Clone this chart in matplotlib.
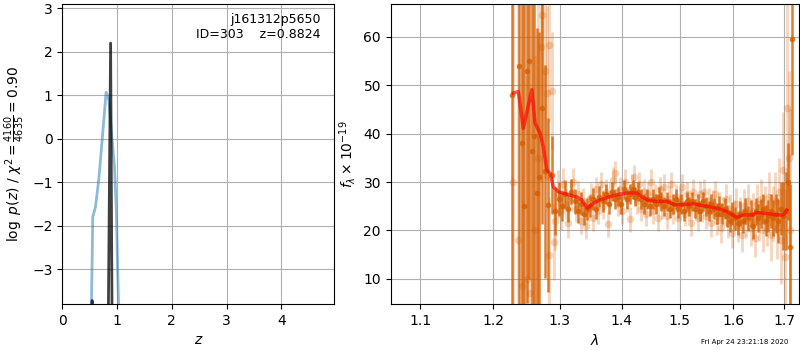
import time
import numpy as np
import matplotlib
matplotlib.use('Agg')
import matplotlib.pyplot as plt
from matplotlib.ticker import ScalarFormatter, NullLocator, NullFormatter

# redshift panel
z_chi2 = [0.530, 0.545, 0.556, 0.605, 0.665, 0.728, 0.758, 0.800, 0.850, 0.910, 0.953, 0.985, 1.010, 1.030]
logp_chi2 = [-3.9, -2.8, -1.80, -1.57, -0.95, -0.03, 0.43, 1.07, 0.90, -0.03, -0.65, -1.57, -2.95, -3.9]
z_pz = [0.540, 0.545, 0.550, 0.838, 0.8824, 0.910]
logp_pz = [-4.5, -3.72, -4.5, -4.5, 2.2, -4.5]

obj_name = 'j161312p5650'
obj_id = 303
z_best = 0.8824
chi2 = 4160
dof = 4635

# spectrum panel, dark points (combined)
wave_dark = [1.2271, 1.2384, 1.2420, 1.2454, 1.2494, 1.2533, 1.2568, 1.2608, 1.2644, 1.2684,
             1.2725, 1.2774, 1.2821, 1.288, 1.293, 1.298, 1.303, 1.308, 1.313, 1.318,
             1.323, 1.328, 1.333, 1.338, 1.343, 1.348, 1.353, 1.358, 1.363, 1.368,
             1.373, 1.378, 1.383, 1.388, 1.393, 1.398, 1.403, 1.408, 1.413, 1.418,
             1.423, 1.428, 1.433, 1.438, 1.443, 1.448, 1.453, 1.458, 1.463, 1.468,
             1.473, 1.478, 1.483, 1.488, 1.493, 1.498, 1.503, 1.508, 1.513, 1.518,
             1.523, 1.528, 1.533, 1.538, 1.543, 1.548, 1.553, 1.558, 1.563, 1.568,
             1.573, 1.578, 1.583, 1.588, 1.593, 1.598, 1.603, 1.608, 1.613, 1.618,
             1.623, 1.628, 1.633, 1.638, 1.643, 1.648, 1.653, 1.658, 1.663, 1.668,
             1.673, 1.678, 1.683, 1.688, 1.693, 1.698, 1.7035, 1.7075, 1.712, 1.7157]
flux_dark = [48.0, 54.0, 38.0, 25.0, 53.0, 55.0, 36.4, 39.5, 27.8, 31.1,
             45.3, 32.2, 25.3, 31.5, 24.0, 26.5, 25.0, 27.5, 24.5, 28.0,
             26.0, 24.0, 25.5, 23.5, 24.5, 25.0, 26.5, 24.5, 27.0, 26.0,
             27.5, 25.5, 28.0, 26.5, 27.0, 25.5, 28.5, 26.5, 27.5, 28.5,
             27.0, 28.0, 26.5, 25.5, 26.5, 25.0, 26.5, 25.5, 27.0, 26.0,
             25.0, 26.0, 24.5, 25.5, 26.5, 24.5, 25.5, 24.0, 26.0, 25.0,
             26.0, 24.5, 25.5, 24.0, 26.0, 25.0, 24.0, 25.5, 24.5, 23.5,
             25.0, 23.5, 24.5, 23.0, 22.0, 23.5, 22.5, 21.5, 23.5, 22.0,
             24.0, 22.5, 23.5, 21.0, 24.0, 22.5, 23.5, 24.5, 22.0, 23.0,
             24.0, 22.5, 23.5, 22.0, 24.5, 23.0, 24.0, 30.1, 16.5, 59.6]
err_dark = [70, 60, 55, 50, 48, 45, 42, 38, 34, 30,
            24, 22, 18, 8, 5, 3.5, 3.0, 3.0, 2.8, 2.6,
            2.5, 2.5, 2.4, 2.4, 2.3, 2.3, 2.2, 2.2, 2.2, 2.1,
            2.1, 2.1, 2.0, 2.0, 2.0, 2.0, 2.0, 2.0, 2.0, 2.0,
            2.0, 2.0, 2.0, 2.0, 2.0, 2.0, 2.0, 2.0, 2.0, 2.0,
            2.0, 2.0, 2.0, 2.0, 2.0, 2.0, 2.0, 2.0, 2.0, 2.0,
            2.0, 2.0, 2.0, 2.0, 2.0, 2.0, 2.1, 2.1, 2.1, 2.1,
            2.2, 2.2, 2.2, 2.3, 2.3, 2.3, 2.4, 2.4, 2.5, 2.5,
            2.6, 2.6, 2.7, 2.8, 2.8, 2.9, 3.0, 3.1, 3.2, 3.3,
            3.5, 3.7, 4.0, 4.5, 5.5, 7.0, 8.0, 8.0, 13, 24]

# spectrum panel, light points (individual beams)
wave_light = [1.229, 1.236, 1.243, 1.250, 1.255, 1.2615, 1.266, 1.2705, 1.2725, 1.2765,
              1.2800, 1.2826, 1.2836, 1.2870, 1.2909,
              1.293, 1.297, 1.301, 1.305, 1.309, 1.313, 1.317, 1.321, 1.325, 1.329,
              1.333, 1.337, 1.341, 1.345, 1.349, 1.353, 1.357, 1.361, 1.365, 1.369,
              1.373, 1.377, 1.381, 1.385, 1.389, 1.393, 1.397, 1.401, 1.405, 1.409,
              1.413, 1.417, 1.421, 1.425, 1.429, 1.433, 1.437, 1.441, 1.445, 1.449,
              1.453, 1.457, 1.461, 1.465, 1.469, 1.473, 1.477, 1.481, 1.485, 1.489,
              1.493, 1.497, 1.501, 1.505, 1.509, 1.513, 1.517, 1.521, 1.525, 1.529,
              1.533, 1.537, 1.541, 1.545, 1.549, 1.553, 1.557, 1.561, 1.565, 1.569,
              1.573, 1.577, 1.581, 1.585, 1.589, 1.593, 1.597, 1.601, 1.605, 1.609,
              1.613, 1.617, 1.621, 1.625, 1.629, 1.633, 1.637, 1.641, 1.645, 1.649,
              1.653, 1.657, 1.661, 1.665, 1.669, 1.673, 1.677, 1.681, 1.685, 1.689,
              1.693, 1.697, 1.701, 1.705, 1.709, 1.713]
flux_light = [30.0, 18.0, 8.5, 10.0, 7.0, 20.0, 35.0, 58.0, 64.6, 52.9,
              48.4, 14.9, 58.4, 48.9, 17.7,
              22.0, 27.5, 24.0, 29.5, 25.5, 21.5, 27.0, 30.0, 24.5, 27.5,
              22.0, 26.0, 21.0, 24.5, 27.0, 22.5, 28.5, 24.0, 29.5, 25.0,
              28.0, 21.3, 27.5, 30.5, 31.8, 25.5, 28.5, 24.0, 30.0, 26.5,
              22.3, 29.0, 31.0, 26.0, 29.5, 24.5, 28.0, 23.5, 27.5, 30.0,
              24.0, 27.0, 22.5, 28.5, 25.0, 29.0, 23.0, 26.5, 29.5, 24.0,
              27.0, 22.5, 26.0, 29.0, 23.5, 27.5, 24.5, 21.5, 28.0, 25.0,
              22.5, 27.5, 24.5, 28.0, 23.0, 26.0, 21.5, 25.5, 27.5, 22.0,
              25.0, 20.5, 24.0, 26.5, 21.5, 24.5, 19.5, 23.0, 25.5, 21.0,
              23.5, 19.0, 25.0, 22.0, 26.0, 20.5, 24.0, 18.5, 25.5, 22.0,
              26.5, 20.0, 24.5, 21.5, 27.0, 19.0, 23.5, 26.0, 20.5, 28.0,
              18.0, 32.5, 14.6, 45.3, 34.9, 20.0]
err_light = [60, 55, 45, 42, 40, 36, 32, 28, 25, 22,
             18, 12, 16, 12, 8,
             6.0, 5.0, 4.0, 3.5, 3.2, 3.0, 3.0, 3.0, 2.8, 2.8,
             2.8, 2.8, 2.7, 2.7, 2.7, 2.7, 2.6, 2.6, 2.6, 2.6,
             2.6, 2.6, 2.6, 2.6, 2.6, 2.6, 2.6, 2.6, 2.6, 2.6,
             2.6, 2.6, 2.6, 2.6, 2.6, 2.6, 2.6, 2.6, 2.6, 2.6,
             2.6, 2.6, 2.6, 2.6, 2.6, 2.6, 2.6, 2.6, 2.6, 2.6,
             2.6, 2.6, 2.6, 2.6, 2.6, 2.6, 2.6, 2.6, 2.6, 2.6,
             2.7, 2.7, 2.7, 2.7, 2.7, 2.8, 2.8, 2.8, 2.8, 2.9,
             2.9, 3.0, 3.0, 3.0, 3.1, 3.1, 3.2, 3.2, 3.3, 3.3,
             3.4, 3.4, 3.5, 3.5, 3.6, 3.7, 3.8, 3.9, 4.0, 4.1,
             4.2, 4.4, 4.6, 4.8, 5.0, 5.3, 5.6, 6.0, 6.5, 7.0,
             9.0, 12, 14, 22, 18, 25]

# best-fit model
wave_model = [1.2295, 1.2369, 1.2443, 1.2570, 1.2618, 1.2694, 1.2744, 1.2797, 1.2848, 1.2898,
              1.2975, 1.3107, 1.3264, 1.3344, 1.3434, 1.3531, 1.3640, 1.3804, 1.3970, 1.4138,
              1.4251, 1.4337, 1.4451, 1.4597, 1.4773, 1.4921, 1.5070, 1.5251, 1.5434, 1.5684,
              1.5874, 1.6065, 1.6192, 1.6387, 1.6450, 1.6651, 1.6851, 1.6986, 1.7054]
flux_model = [48.4, 48.7, 41.1, 49.1, 42.2, 40.1, 37.3, 32.5, 31.8, 29.0,
              28.0, 27.5, 26.9, 26.3, 24.6, 25.6, 26.3, 27.0, 27.5, 27.8,
              27.7, 27.0, 26.2, 26.0, 26.0, 25.3, 25.3, 25.5, 25.1, 24.6,
              23.9, 22.7, 23.2, 23.2, 23.7, 23.5, 23.2, 23.2, 24.2]

g141_color = (0.8352941, 0.3686274, 0.0)

fig = plt.figure(figsize=(8, 3.5), dpi=100)
ax1 = fig.add_axes([0.0779, 0.1314, 0.34, 0.856])
ax2 = fig.add_axes([0.4884, 0.1314, 0.5108, 0.856])

ax1.plot(z_chi2, logp_chi2, color='tab:blue', alpha=0.5, lw=2)
ax1.plot(z_pz, logp_pz, color='k', alpha=0.75, lw=2)
ax1.text(0.95, 0.97, '%s\nID=%d    z=%.4f' % (obj_name, obj_id, z_best),
         ha='right', va='top', transform=ax1.transAxes, fontsize=9)
ax1.set_xlim(0, 4.97)
ax1.set_ylim(-3.8, 3.09)
ax1.set_xticks([0, 1, 2, 3, 4])
ax1.set_yticks([-3, -2, -1, 0, 1, 2, 3])
ax1.set_xlabel(r'$z$')
ax1.set_ylabel(r'$\log\ p(z)$' + ' / ' + r'$\chi^2=\frac{%d}{%d}=%.2f$' % (chi2, dof, chi2 / dof))
ax1.grid()

ax2.errorbar(wave_light, flux_light, err_light, marker='o', ms=5.5, mec='none',
             linestyle='None', lw=2, color=g141_color, alpha=0.26)
ax2.errorbar(wave_dark, flux_dark, err_dark, marker='o', ms=4, mec='none',
             linestyle='None', lw=1.8, color=g141_color, alpha=0.8)
ax2.plot(wave_model, flux_model, color='r', alpha=0.65, lw=2.5, zorder=10)

ax2.set_xscale('log')
ax2.set_xlim(1.0617, 1.7313)
ax2.set_ylim(4.8, 66.7)
ax2.set_xticks([1.1, 1.2, 1.3, 1.4, 1.5, 1.6, 1.7])
ax2.xaxis.set_major_formatter(ScalarFormatter())
ax2.xaxis.set_minor_locator(NullLocator())
ax2.xaxis.set_minor_formatter(NullFormatter())
ax2.set_yticks([10, 20, 30, 40, 50, 60])
ax2.set_xlabel(r'$\lambda$')
ax2.set_ylabel(r'$f_\lambda\times10^{-19}$')
ax2.grid()

fig.text(1 - 0.015, 0.015, 'Fri Apr 24 23:21:18 2020', ha='right', va='bottom', fontsize=5)

fig.savefig('out.png', dpi=100)
